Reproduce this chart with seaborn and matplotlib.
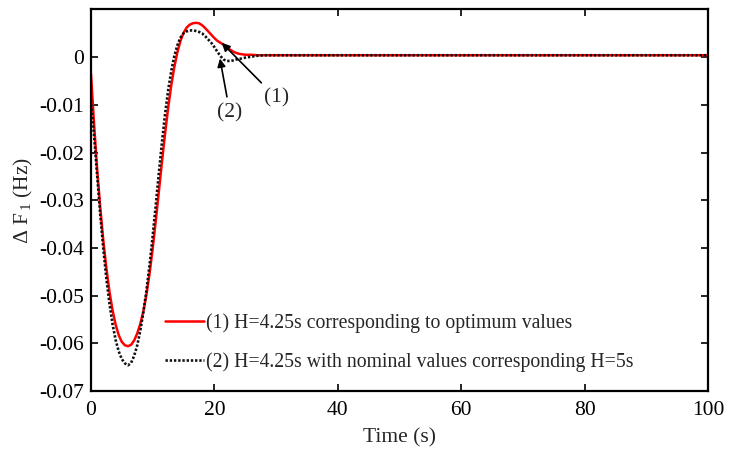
import numpy as np
import pandas as pd
import matplotlib
matplotlib.use("Agg")
import matplotlib.pyplot as plt
import seaborn as sns
from matplotlib.lines import Line2D

# Frequency deviation of area 1 after a load step
time_s = [0.0, 0.5, 1.0, 1.5, 2.0, 2.5, 3.0, 3.5, 4.0, 4.5, 5.0, 5.5, 6.0, 6.5,
          7.0, 7.5, 8.0, 8.5, 9.0, 9.5, 10.0, 10.5, 11.0, 11.5, 12.0, 12.5,
          13.0, 13.5, 14.0, 14.5, 15.0, 15.5, 16.0, 16.5, 17.0, 17.5, 18.0,
          18.5, 19.0, 19.5, 20.0, 20.5, 21.0, 21.5, 22.0, 22.5, 23.0, 23.5,
          24.0, 25, 26, 27, 28, 30, 40, 50, 60, 70, 80, 90, 100]

df_optimum = [-0.0035, -0.0140, -0.0235, -0.0315, -0.0385, -0.0443, -0.0492,
              -0.0531, -0.0561, -0.0583, -0.0597, -0.0604, -0.0606, -0.0603,
              -0.0594, -0.0579, -0.0559, -0.0532, -0.0497, -0.0453, -0.0401,
              -0.0343, -0.0282, -0.0220, -0.0161, -0.0107, -0.0060, -0.0021,
              0.0010, 0.0034, 0.0051, 0.0062, 0.0068, 0.0071, 0.0072, 0.0071,
              0.0067, 0.0061, 0.0054, 0.0047, 0.0040, 0.0034, 0.0030, 0.0026,
              0.0021, 0.0016, 0.0012, 0.0009, 0.0007, 0.0005, 0.0005, 0.0004,
              0.0004, 0.0004, 0.0004, 0.0004, 0.0004, 0.0004, 0.0004, 0.0004,
              0.0004]

df_nominal = [-0.0090, -0.0165, -0.0248, -0.0330, -0.0402, -0.0465, -0.0517,
              -0.0560, -0.0593, -0.0617, -0.0633, -0.0642, -0.0646, -0.0641,
              -0.0626, -0.0604, -0.0573, -0.0534, -0.0488, -0.0435, -0.0375,
              -0.0310, -0.0243, -0.0179, -0.0120, -0.0070, -0.0030, 0.0002,
              0.0025, 0.0041, 0.0050, 0.0054, 0.0056, 0.0056, 0.0055, 0.0053,
              0.0050, 0.0044, 0.0037, 0.0030, 0.0021, 0.0011, 0.0002, -0.0005,
              -0.0008, -0.0008, -0.0007, -0.0005, -0.0004, -0.0001, 0.0001,
              0.0003, 0.0004, 0.0004, 0.0004, 0.0004, 0.0004, 0.0004, 0.0004,
              0.0004, 0.0004]

label_opt = "(1) H=4.25s corresponding to optimum values"
label_nom = "(2) H=4.25s with nominal values corresponding H=5s"

x_ticks = [0, 20, 40, 60, 80, 100]
y_ticks = [-0.07, -0.06, -0.05, -0.04, -0.03, -0.02, -0.01, 0]
y_tick_labels = ["-0.07", "-0.06", "-0.05", "-0.04", "-0.03", "-0.02",
                 "-0.01", "0"]

sns.set_style("ticks")
plt.rcParams["font.family"] = ["Liberation Serif", "DejaVu Serif"]
plt.rcParams["mathtext.fontset"] = "custom"
plt.rcParams["mathtext.rm"] = "Liberation Serif"
plt.rcParams["mathtext.it"] = "Liberation Serif:italic"
plt.rcParams["axes.unicode_minus"] = False

data = pd.DataFrame({
    "t": time_s * 2,
    "dF": df_optimum + df_nominal,
    "case": [label_opt] * len(time_s) + [label_nom] * len(time_s),
})

red = "#ff0000"
dark = "#111111"
dot = (0, (0.9, 0.7))

fig = plt.figure(figsize=(7.29, 4.5), dpi=100)
ax = fig.add_axes([0.1248, 0.131, 0.8464, 0.848])

sns.lineplot(data=data, x="t", y="dF", hue="case",
             palette={label_opt: red, label_nom: dark},
             sort=False, estimator=None, ax=ax, legend=False)
lines = ax.get_lines()
lines[0].set_linewidth(1.8)
lines[1].set_linewidth(1.9)
lines[1].set_linestyle(dot)

ax.set_xlim(0, 100)
ax.set_ylim(-0.07, 0.01)
ax.set_xticks(x_ticks)
ax.set_yticks(y_ticks)
ax.set_yticklabels(y_tick_labels)
ax.tick_params(direction="in", length=5, width=1.2, labelsize=15.5,
               top=True, right=True, colors="black")
ax.tick_params(axis="x", pad=7)
ax.tick_params(axis="y", pad=5)
for sp in ax.spines.values():
    sp.set_linewidth(1.6)
    sp.set_color("black")

ax.set_xlabel("Time (s)", fontsize=15.5, labelpad=6)
ax.set_ylabel(r"Δ F$_{\,1}$ (Hz)", fontsize=15.5, labelpad=3)

# Frameless legend in the lower middle of the axes
handles = [Line2D([], [], color=red, lw=1.8),
           Line2D([], [], color=dark, lw=1.9, linestyle=dot)]
ax.legend(handles, [label_opt, label_nom], loc="center left",
          bbox_to_anchor=(0.12, 0.127), frameon=False, fontsize=14.2,
          handlelength=2.0, handletextpad=0.1, labelspacing=0.95,
          borderpad=0, borderaxespad=0)

arrow = dict(arrowstyle="-|>", color="black", lw=1.2, mutation_scale=12,
             shrinkA=2, shrinkB=0)
ax.annotate("(1)", xy=(21.2, 0.0030), xytext=(30.0, -0.0085),
            ha="center", va="center", fontsize=15.5, arrowprops=arrow)
ax.annotate("(2)", xy=(20.9, -0.0003), xytext=(22.5, -0.0116),
            ha="center", va="center", fontsize=15.5, arrowprops=arrow)

fig.savefig("out.png", dpi=100)
